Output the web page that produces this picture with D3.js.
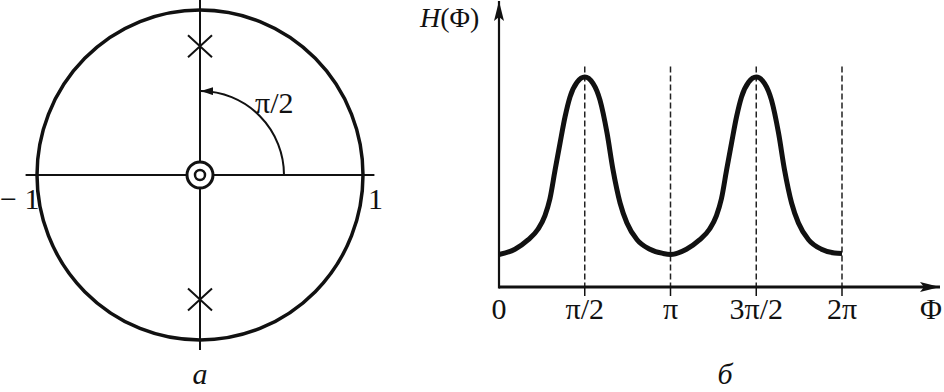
<!DOCTYPE html>
<html>
<head>
<meta charset="utf-8">
<script src="https://cdn.jsdelivr.net/npm/d3@7"></script>
<style>
  body { margin: 0; background: #fff; }
  text { font-family: "Liberation Serif", "Times New Roman", serif; fill: #111; }
</style>
</head>
<body>
<div id="chart"></div>
<script>
// pole-zero plot (a) : unit circle, poles on imaginary axis, double zero at origin
var poles = [{ re: 0, im: 0.78 }, { re: 0, im: -0.755 }];
var zeros = [{ re: 0, im: 0 }];
var circleLabels = [{ v: -1, t: "\u2212 1" }, { v: 1, t: "1" }];

// frequency response (б) : phi in units of pi, H relative to peak
var phi = [0, 0.093, 0.169, 0.227, 0.268, 0.297, 0.327, 0.356, 0.385, 0.414, 0.455, 0.5,
           0.548, 0.589, 0.630, 0.665, 0.706, 0.746, 0.805, 0.880, 0.956, 1.0,
           1.093, 1.169, 1.227, 1.268, 1.297, 1.327, 1.356, 1.385, 1.414, 1.455, 1.5,
           1.548, 1.589, 1.630, 1.665, 1.706, 1.746, 1.805, 1.880, 1.956, 2.0];
var hval = [0.155, 0.180, 0.224, 0.275, 0.340, 0.420, 0.557, 0.686, 0.810, 0.905, 0.975, 1.0,
            0.970, 0.890, 0.733, 0.557, 0.400, 0.305, 0.225, 0.180, 0.160, 0.155,
            0.180, 0.224, 0.275, 0.340, 0.420, 0.557, 0.686, 0.810, 0.905, 0.975, 1.0,
            0.970, 0.890, 0.733, 0.557, 0.400, 0.305, 0.225, 0.180, 0.162, 0.16];
var tickVals = [0, 0.5, 1, 1.5, 2];
var tickLabels = ["0", "\u03c0/2", "\u03c0", "3\u03c0/2", "2\u03c0"];

var svg = d3.select("#chart").append("svg")
    .attr("width", 944)
    .attr("height", 392);

var defs = svg.append("defs");
defs.append("marker")
    .attr("id", "arrowBig")
    .attr("viewBox", "0 0 20 10")
    .attr("refX", 20).attr("refY", 5)
    .attr("markerWidth", 20).attr("markerHeight", 10)
    .attr("markerUnits", "userSpaceOnUse")
    .attr("orient", "auto")
    .append("path").attr("d", "M0,0 L20,5 L0,10 L4,5 Z").attr("fill", "#111");
defs.append("marker")
    .attr("id", "arrowSmall")
    .attr("viewBox", "0 0 12 8")
    .attr("refX", 12).attr("refY", 4)
    .attr("markerWidth", 12).attr("markerHeight", 8)
    .attr("markerUnits", "userSpaceOnUse")
    .attr("orient", "auto")
    .append("path").attr("d", "M0,0 L12,4 L0,8 Z").attr("fill", "#111");

//---------------- panel a ----------------//
var zx = d3.scaleLinear().domain([-1, 1]).range([37, 363]);
var zy = d3.scaleLinear().domain([-1, 1]).range([340, 10]);
var gA = svg.append("g");

// axes
gA.append("line")
    .attr("x1", zx(-1.07)).attr("x2", zx(1.07))
    .attr("y1", zy(0)).attr("y2", zy(0))
    .attr("stroke", "#111").attr("stroke-width", 2);
gA.append("line")
    .attr("x1", zx(0)).attr("x2", zx(0))
    .attr("y1", zy(1.06)).attr("y2", zy(-1.06))
    .attr("stroke", "#111").attr("stroke-width", 2);

// unit circle
gA.append("ellipse")
    .attr("cx", zx(0)).attr("cy", zy(0))
    .attr("rx", zx(1) - zx(0)).attr("ry", zy(0) - zy(1))
    .attr("fill", "none").attr("stroke", "#111").attr("stroke-width", 3.5);

// angle arc pi/2
var ar = 84;
gA.append("path")
    .attr("d", "M" + (zx(0) + ar) + "," + zy(0) + " A" + ar + "," + ar + " 0 0 0 " + (zx(0) + 1) + "," + (zy(0) - ar))
    .attr("fill", "none").attr("stroke", "#111").attr("stroke-width", 2)
    .attr("marker-end", "url(#arrowSmall)");
gA.append("text")
    .attr("x", 255).attr("y", 113)
    .style("font-size", "30px")
    .text("\u03c0/2");

// poles
gA.selectAll(".pole").data(poles).enter().append("path")
    .attr("class", "pole")
    .attr("d", function(d) {
        var cx = zx(d.re), cy = zy(d.im), s = 12, t = 11;
        return "M" + (cx - s) + "," + (cy - t) + " L" + (cx + s) + "," + (cy + t) +
               " M" + (cx - s) + "," + (cy + t) + " L" + (cx + s) + "," + (cy - t);
    })
    .attr("stroke", "#111").attr("stroke-width", 2).attr("fill", "none");

// double zero
zeros.forEach(function(d) {
    gA.append("circle").attr("cx", zx(d.re)).attr("cy", zy(d.im)).attr("r", 13)
        .attr("fill", "#fff").attr("stroke", "#111").attr("stroke-width", 3);
    gA.append("circle").attr("cx", zx(d.re)).attr("cy", zy(d.im)).attr("r", 5)
        .attr("fill", "#fff").attr("stroke", "#111").attr("stroke-width", 2.5);
});

gA.selectAll(".clab").data(circleLabels).enter().append("text")
    .attr("x", function(d) { return d.v < 0 ? 0 : zx(d.v) + 5; })
    .attr("y", zy(0) + 34)
    .style("font-size", "30px")
    .text(function(d) { return d.t; });

gA.append("text")
    .attr("x", zx(0)).attr("y", 384)
    .attr("text-anchor", "middle")
    .style("font-size", "30px").style("font-style", "italic")
    .text("\u0430");

//---------------- panel б ----------------//
var x = d3.scaleLinear().domain([0, 2]).range([499, 842]);
var y = d3.scaleLinear().domain([0, 1]).range([287, 77]);
var gB = svg.append("g");

// dashed guides
gB.selectAll(".guide").data(tickVals.slice(1)).enter().append("line")
    .attr("x1", function(d) { return x(d); }).attr("x2", function(d) { return x(d); })
    .attr("y1", y(1.05)).attr("y2", y(0))
    .attr("stroke", "#222").attr("stroke-width", 1.5)
    .attr("stroke-dasharray", "6,3");
// tick stubs under the axis
gB.selectAll(".tick").data(tickVals.slice(1)).enter().append("line")
    .attr("x1", function(d) { return x(d); }).attr("x2", function(d) { return x(d); })
    .attr("y1", y(0)).attr("y2", y(0) + 9)
    .attr("stroke", "#111").attr("stroke-width", 1.5);

// axes with arrows
gB.append("line")
    .attr("x1", x(0)).attr("x2", 940)
    .attr("y1", y(0)).attr("y2", y(0))
    .attr("stroke", "#111").attr("stroke-width", 3)
    .attr("marker-end", "url(#arrowBig)");
gB.append("line")
    .attr("x1", x(0)).attr("x2", x(0))
    .attr("y1", y(0) + 1.5).attr("y2", 1)
    .attr("stroke", "#111").attr("stroke-width", 2.2)
    .attr("marker-end", "url(#arrowBig)");

// curve
var line = d3.line()
    .x(function(d, i) { return x(phi[i]); })
    .y(function(d) { return y(d); })
    .curve(d3.curveMonotoneX);
gB.append("path")
    .attr("d", line(hval))
    .attr("fill", "none").attr("stroke", "#111").attr("stroke-width", 5)
    .attr("stroke-linejoin", "round");

gB.selectAll(".tlab").data(tickVals).enter().append("text")
    .attr("x", function(d) { return x(d); })
    .attr("y", 319)
    .attr("text-anchor", "middle")
    .style("font-size", "30px")
    .text(function(d, i) { return tickLabels[i]; });

gB.append("text")
    .attr("x", 931).attr("y", 319)
    .attr("text-anchor", "middle")
    .style("font-size", "30px")
    .text("\u03a6");

var hl = gB.append("text").attr("x", 420).attr("y", 27).style("font-size", "28px");
hl.append("tspan").style("font-style", "italic").text("H");
hl.append("tspan").text("(\u03a6)");

gB.append("text")
    .attr("x", 725).attr("y", 384)
    .attr("text-anchor", "middle")
    .style("font-size", "30px").style("font-style", "italic")
    .text("\u0431");
</script>
</body>
</html>
